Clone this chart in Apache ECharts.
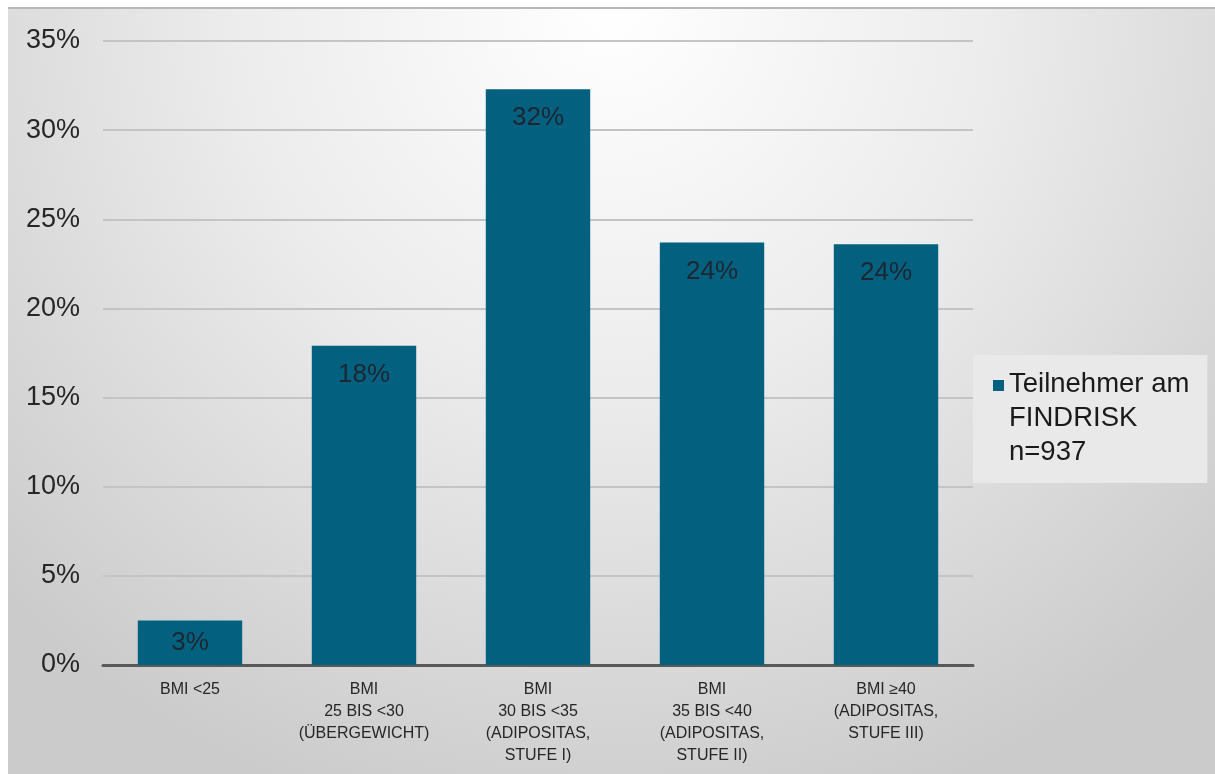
<!DOCTYPE html>
<html>
<head>
<meta charset="utf-8">
<script src="https://cdn.jsdelivr.net/npm/echarts@6/dist/echarts.min.js"></script>
<style>
html,body{margin:0;padding:0;background:#fff;}
#bg{position:absolute;left:8px;top:7px;width:1207px;height:767px;border-top:2px solid #b8b8b8;box-sizing:border-box;
background:radial-gradient(ellipse 70% 110% at 50% 0%, #ffffff 0%, #ececec 45%, #cbcbcb 100%);}
#chart{position:absolute;left:0;top:0;width:1215px;height:774px;}
</style>
</head>
<body>
<div id="bg"></div>
<div id="chart"></div>
<script>
const categories = ['BMI <25', 'BMI\n25 BIS <30\n(ÜBERGEWICHT)', 'BMI\n30 BIS <35\n(ADIPOSITAS,\nSTUFE I)', 'BMI\n35 BIS <40\n(ADIPOSITAS,\nSTUFE II)', 'BMI ≥40\n(ADIPOSITAS,\nSTUFE III)'];
const values = [2.5, 17.9, 32.3, 23.7, 23.6];
const seriesName = 'Teilnehmer am\nFINDRISK\nn=937';
const yMin = 0, yMax = 35, yStep = 5;

const chart = echarts.init(document.getElementById('chart'), null, {renderer:'canvas'});
const barColor = '#03607f';
const option = {
  backgroundColor: 'transparent',
  animation: false,
  grid: {left: 103, right: 242, top: 41, bottom: 109, containLabel: false},
  legend: {
    data: [seriesName],
    left: 973, top: 355,
    orient: 'vertical',
    backgroundColor: '#e9e9e9',
    padding: [12, 18, 14, 20],
    itemWidth: 11, itemHeight: 76,
    icon: 'path://M0,0h11v11h-11zM0,76h0.001',
    itemStyle: {color: barColor},
    textStyle: {fontFamily: "'Liberation Sans', Arial, sans-serif", fontSize: 27.5, lineHeight: 34, color: '#1a1a1a'}
  },
  xAxis: {
    type: 'category',
    data: categories,
    axisTick: {show: false},
    axisLine: {lineStyle: {color: '#595959', width: 3}},
    axisLabel: {interval: 0, margin: 14, fontFamily: "'Liberation Sans', Arial, sans-serif", fontSize: 16, lineHeight: 22, color: '#262626'}
  },
  yAxis: {
    type: 'value', min: yMin, max: yMax, interval: yStep,
    axisLine: {show: false}, axisTick: {show: false},
    splitLine: {lineStyle: {color: '#c4c4c4', width: 2}},
    axisLabel: {formatter: '{value}%', margin: 23, fontFamily: "'Liberation Sans', Arial, sans-serif", fontSize: 27, color: '#262626'}
  },
  series: [{
    name: seriesName,
    type: 'bar',
    barWidth: '60%',
    itemStyle: {color: barColor},
    label: {
      show: true, position: 'insideTop', distance: 16,
      formatter: p => Math.round(p.value) + '%',
      fontFamily: "'Liberation Sans', Arial, sans-serif", fontSize: 26, color: '#1c2730'
    },
    data: values.map((v, i) => i === 0 ? {value: v, label: {position: 'inside'}} : v)
  }]
};
chart.setOption(option);
</script>
</body>
</html>
